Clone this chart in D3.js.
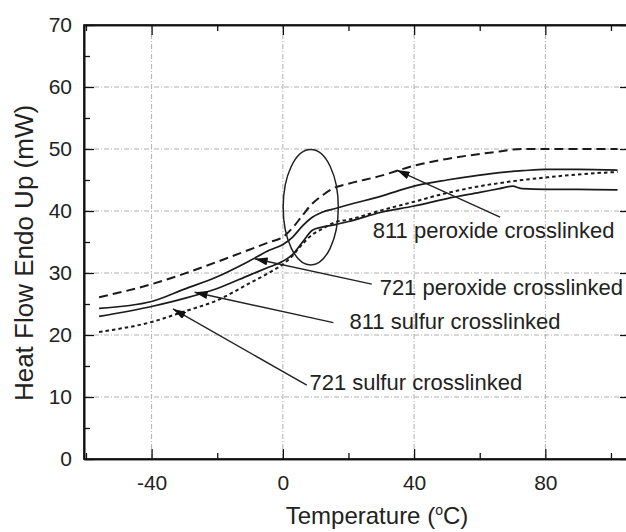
<!DOCTYPE html>
<html>
<head>
<meta charset="utf-8">
<script src="https://cdn.jsdelivr.net/npm/d3@7"></script>
<style>
  body { margin: 0; background: #fff; }
  svg { display: block; font-family: "Liberation Sans", Arial, sans-serif; }
</style>
</head>
<body>
<div id="chart"></div>
<script>
// temperatures (deg C) shared by all four DSC traces
var temps = [-56, -40, -30, -20, -10, -4, 0, 3, 6, 9, 12, 16, 20, 30, 40, 50, 60, 66, 70, 73, 80, 90, 102];

// heat flow (mW)
var peroxide811 = [26.1, 28.2, 29.9, 31.8, 33.8, 35.0, 35.8, 37.3, 39.3, 41.2, 42.5, 43.8, 44.4, 45.7, 47.3, 48.4, 49.2, 49.6, 49.9, 50.0, 50.0, 50.0, 50.0];
var peroxide721 = [24.3, 25.4, 27.4, 29.4, 32.0, 33.7, 34.6, 35.8, 37.6, 39.0, 39.8, 40.4, 41.0, 42.4, 44.0, 45.0, 45.8, 46.2, 46.4, 46.5, 46.7, 46.7, 46.6];
var sulfur811   = [23.0, 24.6, 25.9, 27.5, 29.7, 31.0, 31.9, 33.0, 35.0, 36.9, 37.4, 37.8, 38.3, 39.8, 40.8, 42.0, 43.0, 43.6, 44.0, 43.6, 43.5, 43.5, 43.4];
var sulfur721   = [20.5, 22.1, 23.8, 25.6, 28.4, 30.1, 31.4, 32.8, 34.7, 36.2, 37.1, 38.2, 38.6, 40.1, 41.5, 42.9, 44.0, 44.5, 44.8, 45.0, 45.4, 45.9, 46.3];

var xMajor = [-40, 0, 40, 80];
var xMinor = [-60, -20, 20, 60, 100];
var yMajor = [0, 10, 20, 30, 40, 50, 60, 70];
var yMinor = [5, 15, 25, 35, 45, 55, 65];

// annotation labels: text, label position, arrow tail, arrow tip (data units)
var labels = ["811 peroxide crosslinked", "721 peroxide crosslinked", "811 sulfur crosslinked", "721 sulfur crosslinked"];
var labelPos = [[27.4, 35.6], [29.5, 26.5], [20.3, 20.9], [8.1, 11.1]];
var arrowTail = [[66.2, 39.0], [27.1, 28.2], [15.4, 22.0], [7.3, 11.9]];
var arrowTip = [[34.7, 46.6], [-8.6, 32.3], [-26.9, 26.9], [-33.5, 24.2]];

// ellipse around the glass transition: center and radii (data units)
var ellipseCenter = [8.5, 40.6];
var ellipseRadii = [8.4, 9.3];

var width = 626, height = 532;
var svg = d3.select("#chart").append("svg")
  .attr("width", width)
  .attr("height", height);

var x = d3.scaleLinear().domain([-60.6, 105.8]).range([84, 630]);
var y = d3.scaleLinear().domain([0, 70]).range([459, 25]);

svg.append("defs").append("marker")
  .attr("id", "head")
  .attr("viewBox", "0 0 13 8")
  .attr("refX", 13).attr("refY", 4)
  .attr("markerWidth", 13).attr("markerHeight", 8)
  .attr("markerUnits", "userSpaceOnUse")
  .attr("orient", "auto")
  .append("path").attr("d", "M0,0 L13,4 L0,8 Z").attr("fill", "#111");

// grid
var grid = svg.append("g").attr("stroke", "#b0b0b0").attr("stroke-width", 1)
  .attr("stroke-dasharray", "5,2,1,2");
grid.selectAll(".gx").data(xMajor).enter().append("line")
  .attr("x1", d => x(d)).attr("x2", d => x(d))
  .attr("y1", y(0)).attr("y2", y(70));
grid.selectAll(".gy").data(yMajor.filter(d => d > 0 && d < 70)).enter().append("line")
  .attr("x1", x.range()[0]).attr("x2", x.range()[1])
  .attr("y1", d => y(d)).attr("y2", d => y(d));

var plain = d => String(d);

// axes (ticks inside, frame on all sides)
svg.append("g").attr("transform", "translate(0," + y(0) + ")")
  .call(d3.axisBottom(x).tickValues(xMajor).tickSize(-10).tickSizeOuter(0).tickFormat(plain))
  .call(g => g.selectAll("text").attr("y", 16).attr("font-size", 21).attr("fill", "#222"));
svg.append("g").attr("transform", "translate(0," + y(0) + ")")
  .call(d3.axisBottom(x).tickValues(xMinor).tickSize(-6).tickSizeOuter(0).tickFormat(""));
svg.append("g").attr("transform", "translate(0," + y(70) + ")")
  .call(d3.axisTop(x).tickValues(xMajor).tickSize(-10).tickSizeOuter(0).tickFormat(""));
svg.append("g").attr("transform", "translate(0," + y(70) + ")")
  .call(d3.axisTop(x).tickValues(xMinor).tickSize(-6).tickSizeOuter(0).tickFormat(""));
svg.append("g").attr("transform", "translate(" + x.range()[0] + ",0)")
  .call(d3.axisLeft(y).tickValues(yMajor).tickSize(-10).tickSizeOuter(0).tickFormat(plain))
  .call(g => g.selectAll("text").attr("x", -12).attr("font-size", 21).attr("fill", "#222"));
svg.append("g").attr("transform", "translate(" + x.range()[0] + ",0)")
  .call(d3.axisLeft(y).tickValues(yMinor).tickSize(-6).tickSizeOuter(0).tickFormat(""));
svg.append("g").attr("transform", "translate(" + x.range()[1] + ",0)")
  .call(d3.axisRight(y).tickValues(yMajor).tickSize(-10).tickSizeOuter(0).tickFormat(""));

svg.selectAll(".domain").attr("stroke", "#111").attr("stroke-width", 1.6);
svg.selectAll(".tick line").attr("stroke", "#111").attr("stroke-width", 1.3);
svg.selectAll(".tick text").attr("font-family", "'Liberation Sans', Arial, sans-serif");

// frame lines so the box closes cleanly
svg.append("rect")
  .attr("x", x.range()[0]).attr("y", y(70))
  .attr("width", x.range()[1] - x.range()[0]).attr("height", y(0) - y(70))
  .attr("fill", "none").attr("stroke", "#111").attr("stroke-width", 1.6);

// curves
var series = [
  {values: peroxide811, dash: "9,5", width: 2},
  {values: peroxide721, dash: null, width: 1.7},
  {values: sulfur811, dash: null, width: 1.7},
  {values: sulfur721, dash: "3.5,3", width: 2}
];
var line = d3.line().x(d => x(d[0])).y(d => y(d[1])).curve(d3.curveMonotoneX);
svg.append("g").selectAll("path").data(series).enter().append("path")
  .attr("d", s => line(temps.map((t, i) => [t, s.values[i]])))
  .attr("fill", "none")
  .attr("stroke", "#1a1a1a")
  .attr("stroke-width", s => s.width)
  .attr("stroke-dasharray", s => s.dash);

// ellipse
svg.append("ellipse")
  .attr("cx", x(ellipseCenter[0])).attr("cy", y(ellipseCenter[1]))
  .attr("rx", x(ellipseCenter[0] + ellipseRadii[0]) - x(ellipseCenter[0]))
  .attr("ry", y(ellipseCenter[1]) - y(ellipseCenter[1] + ellipseRadii[1]))
  .attr("fill", "none").attr("stroke", "#222").attr("stroke-width", 1.5);

// arrows and labels
var ann = svg.append("g");
ann.selectAll("line").data(labels).enter().append("line")
  .attr("x1", (d, i) => x(arrowTail[i][0])).attr("y1", (d, i) => y(arrowTail[i][1]))
  .attr("x2", (d, i) => x(arrowTip[i][0])).attr("y2", (d, i) => y(arrowTip[i][1]))
  .attr("stroke", "#222").attr("stroke-width", 1.4)
  .attr("marker-end", "url(#head)");
ann.selectAll("text").data(labels).enter().append("text")
  .attr("x", (d, i) => x(labelPos[i][0])).attr("y", (d, i) => y(labelPos[i][1]))
  .attr("font-size", 22).attr("fill", "#222")
  .text(d => d);

// axis titles
svg.append("text")
  .attr("transform", "translate(33," + 253 + ") rotate(-90)")
  .attr("text-anchor", "middle")
  .attr("font-size", 26).attr("fill", "#222")
  .text("Heat Flow Endo Up (mW)");

var xt = svg.append("text")
  .attr("x", 377).attr("y", 524)
  .attr("text-anchor", "middle")
  .attr("font-size", 24).attr("fill", "#222");
xt.append("tspan").text("Temperature (");
xt.append("tspan").attr("font-size", 14).attr("dy", -9).text("o");
xt.append("tspan").attr("dy", 9).text("C)");
</script>
</body>
</html>
